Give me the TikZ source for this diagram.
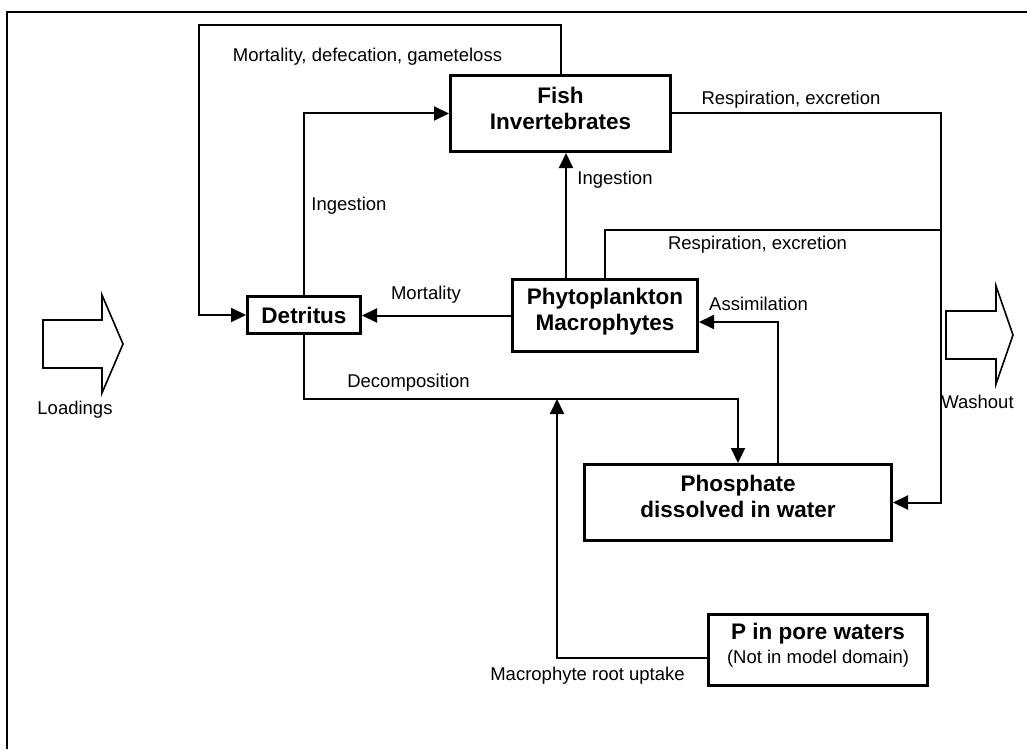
\documentclass[tikz,border=0pt]{standalone}
\usepackage{fontspec}
\setmainfont{Liberation Sans}
\usetikzlibrary{arrows.meta}
\tikzset{
  box/.style={draw, line width=3pt, inner sep=0pt, fill=white},
  boxtext/.style={font=\fontsize{22.5}{26}\selectfont\bfseries, align=center, inner sep=0pt},
  lbl/.style={font=\fontsize{18.5}{22}\selectfont, inner sep=0pt},
  conn/.style={line width=2pt},
  arr/.style={conn, -{Triangle[length=15pt,width=14pt]}},
  blockarrow/.style={draw, line width=1.6pt, line join=miter},
  frame/.style={line width=2pt}
}
\begin{document}
\begin{tikzpicture}[x=1pt,y=-1pt]
\useasboundingbox (0,0) rectangle (1027,749);
% frame (left and top edges)
\draw[frame] (7,749) -- (7,12) -- (1027,12);

% boxes
\node[box, minimum width=220pt, minimum height=76pt] (fish) at (560.5,113.5) {};
\node[boxtext] (fishT) at (560.5,108) {Fish\\Invertebrates};
\node[box, minimum width=113pt, minimum height=37pt] (det) at (304,315) {};
\node[boxtext] (detT) at (304,315) {Detritus};
\node[box, minimum width=185pt, minimum height=72pt] (phy) at (605,315.5) {};
\node[boxtext] (phyT) at (605,312) {Phytoplankton\\Macrophytes};
\node[box, minimum width=307pt, minimum height=76pt] (phos) at (738,502.5) {};
\node[boxtext] (phosT) at (738,496.5) {Phosphate\\dissolved in water};
\node[box, minimum width=219pt, minimum height=71pt] (pore) at (818,650) {};
\node[boxtext] (poreT) at (818,634) {P in pore waters};
\node[lbl] (poreS) at (818,659) {(Not in model domain)};

% helper coordinates
\coordinate (loopTL) at (199,25);
\coordinate (ingx) at (566,0);
\coordinate (dec) at (738,399);
\coordinate (assim) at (778,322);
\coordinate (rx) at (941,0);
\coordinate (rjoin) at (941,230);
\coordinate (root) at (557,658);

% connectors
\draw[arr] (fish.north) |- (loopTL) |- (det.west);
\draw[arr] (det.north) |- (fish.west);
\draw[arr] (phy.north -| ingx) -- (fish.south -| ingx);
\draw[arr] (phy.west) -- (phy.west -| det.east);
\draw[arr] (det.south) |- (dec) -- (phos.north);
\draw[arr] (phos.north -| assim) -- (assim) -- (assim -| phy.east);
\draw[arr] (fish.east) -| (rx |- phos.east) -- (phos.east);
\draw[conn] (phy.north) |- (rjoin);
\draw[arr] (pore.west |- root) -- (root) -- (root |- dec);

% block arrows
\draw[blockarrow] (43,320) -- (102,320) -- (102,295) -- (123,344) -- (102,393) -- (102,368) -- (43,368) -- cycle;
\draw[blockarrow] (946,311) -- (996,311) -- (996,286) -- (1013,335) -- (996,384) -- (996,359) -- (946,359) -- cycle;

% labels
\node[lbl] (l1) at (367.5,57) {Mortality, defecation, gameteloss};
\node[lbl] (l2) at (349,206) {Ingestion};
\node[lbl] (l3) at (615,180) {Ingestion};
\node[lbl] (l4) at (791,100) {Respiration, excretion};
\node[lbl] (l5) at (757.5,245) {Respiration, excretion};
\node[lbl] (l6) at (426,295) {Mortality};
\node[lbl] (l7) at (758.5,304) {Assimilation};
\node[lbl] (l8) at (408.5,383) {Decomposition};
\node[lbl] (l9) at (587.5,676) {Macrophyte root uptake};
\node[lbl] (l10) at (75,410) {Loadings};
\node[lbl] (l11) at (977.5,402) {Washout};
\end{tikzpicture}
\end{document}
